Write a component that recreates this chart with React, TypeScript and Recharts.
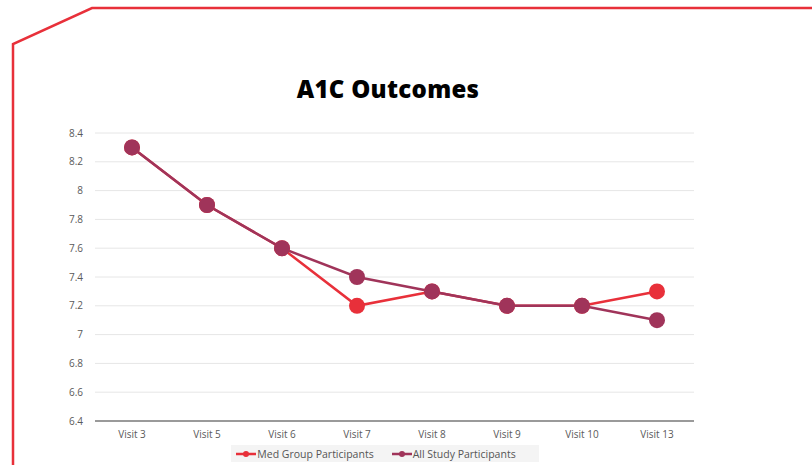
import React from "react";
import {
  LineChart,
  Line,
  XAxis,
  YAxis,
  CartesianGrid,
} from "recharts";

const visits = ["Visit 3", "Visit 5", "Visit 6", "Visit 7", "Visit 8", "Visit 9", "Visit 10", "Visit 13"];
const medGroup = [8.3, 7.9, 7.6, 7.2, 7.3, 7.2, 7.2, 7.3];
const allStudy = [8.3, 7.9, 7.6, 7.4, 7.3, 7.2, 7.2, 7.1];
const yTicks = [6.4, 6.6, 6.8, 7, 7.2, 7.4, 7.6, 7.8, 8, 8.2, 8.4];

const RED = "#e8303a";
const PURPLE = "#a0345a";
const FONT = "'Open Sans', Lato, sans-serif";

const data = visits.map((v, i) => ({
  visit: v,
  med: medGroup[i],
  all: allStudy[i],
}));

const LegendItem = ({ color, label }: { color: string; label: string }) => (
  <span style={{ display: "inline-flex", alignItems: "center", marginRight: 18 }}>
    <svg width={20} height={8}>
      <line x1={0} y1={4} x2={20} y2={4} stroke={color} strokeWidth={2.5} />
      <circle cx={10} cy={4} r={3} fill={color} />
    </svg>
    <span style={{ marginLeft: 1 }}>{label}</span>
  </span>
);

export default function App() {
  return (
    <div
      style={{
        position: "fixed",
        left: 0,
        top: 0,
        width: 812,
        height: 465,
        background: "#fff",
        fontFamily: FONT,
        overflow: "hidden",
      }}
    >
      <svg width={812} height={465} style={{ position: "absolute", left: 0, top: 0 }}>
        <polyline
          points="13,465 13,44 92,8 812,8"
          fill="none"
          stroke={RED}
          strokeWidth={2.5}
        />
      </svg>
      <div
        style={{
          position: "absolute",
          left: 0,
          width: 776,
          top: 72,
          textAlign: "center",
          fontSize: 24,
          fontWeight: 800,
          letterSpacing: 0.3,
          color: "#000",
        }}
      >
        A1C Outcomes
      </div>
      <div style={{ position: "absolute", left: 0, top: 0 }}>
        <LineChart
          width={812}
          height={465}
          data={data}
          margin={{ top: 133, right: 118, bottom: 14, left: 55 }}
        >
          <CartesianGrid vertical={false} stroke="#e6e6e6" strokeWidth={1} />
          <XAxis
            dataKey="visit"
            height={30}
            padding={{ left: 37, right: 37 }}
            axisLine={{ stroke: "#9a9a9a", strokeWidth: 2 }}
            tickLine={false}
            tick={{ fontSize: 10, fill: "#5a5a5a", fontFamily: FONT }}
            tickMargin={4}
          />
          <YAxis
            width={40}
            domain={[6.4, 8.4]}
            ticks={yTicks}
            interval={0}
            axisLine={false}
            tickLine={false}
            tick={{ fontSize: 10, fill: "#5a5a5a", fontFamily: FONT }}
            tickMargin={6}
          />
          <Line
            dataKey="med"
            name="Med Group Participants"
            stroke={RED}
            strokeWidth={2.5}
            dot={{ r: 8, fill: RED, stroke: RED, strokeWidth: 0 }}
            activeDot={false}
            isAnimationActive={false}
          />
          <Line
            dataKey="all"
            name="All Study Participants"
            stroke={PURPLE}
            strokeWidth={2.5}
            dot={{ r: 8, fill: PURPLE, stroke: PURPLE, strokeWidth: 0 }}
            activeDot={false}
            isAnimationActive={false}
          />
        </LineChart>
      </div>
      <div
        style={{
          position: "absolute",
          left: 231,
          top: 445,
          width: 308,
          height: 17,
          background: "#f4f4f4",
          display: "flex",
          alignItems: "center",
          justifyContent: "center",
          fontSize: 10.5,
          color: "#555",
        }}
      >
        <LegendItem color={RED} label="Med Group Participants" />
        <LegendItem color={PURPLE} label="All Study Participants" />
      </div>
    </div>
  );
}
